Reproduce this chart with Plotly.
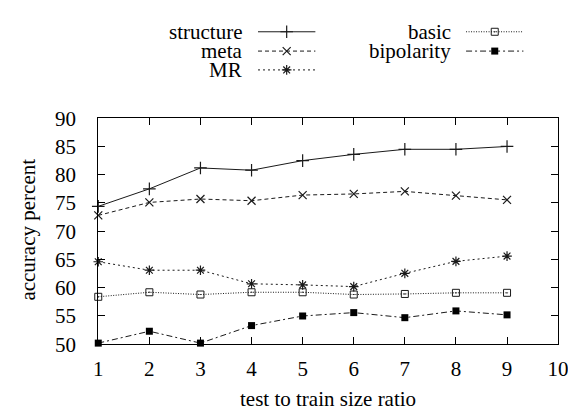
import plotly.graph_objects as go

W, H = 576, 412

x = [1, 2, 3, 4, 5, 6, 7, 8, 9]
structure = [74.4, 77.5, 81.2, 80.8, 82.5, 83.6, 84.5, 84.5, 85.0]
meta = [72.8, 75.1, 75.7, 75.4, 76.4, 76.6, 77.05, 76.3, 75.55]
mr = [64.6, 63.1, 63.1, 60.7, 60.5, 60.2, 62.55, 64.67, 65.6]
basic = [58.4, 59.2, 58.8, 59.2, 59.2, 58.8, 58.9, 59.1, 59.1]
bipolarity = [50.2, 52.3, 50.2, 53.3, 55.0, 55.6, 54.7, 55.9, 55.2]

x_ticks = [1, 2, 3, 4, 5, 6, 7, 8, 9, 10]
y_ticks = [50, 55, 60, 65, 70, 75, 80, 85, 90]

FONT = "Liberation Serif"
FS = 21
LC = "#1a1a1a"

series = [
    ("structure", structure, dict(dash="solid"), dict(symbol="cross-thin", size=9, line=dict(width=1.2, color=LC))),
    ("meta", meta, dict(dash="4px,3px"), dict(symbol="x-thin", size=8, line=dict(width=1.2, color=LC))),
    ("MR", mr, dict(dash="2px,3px"), dict(symbol="asterisk", size=8, line=dict(width=1.2, color=LC))),
    ("basic", basic, dict(dash="1px,1.5px"), dict(symbol="square-open-dot", size=7, color=LC, line=dict(width=1, color=LC))),
    ("bipolarity", bipolarity, dict(dash="6px,3px,2px,3px"), dict(symbol="square", size=7, color="black", line=dict(width=0))),
]

fig = go.Figure()
for name, ys, ls, ms in series:
    fig.add_trace(go.Scatter(x=x, y=ys, mode="lines+markers", name=name,
                             line=dict(color=LC, width=1, **ls), marker=ms,
                             showlegend=False, xaxis="x", yaxis="y", cliponaxis=False))

# legend samples on a pixel-space axis occupying the top strip only
LEG_H = 70
leg_pos = {
    "structure": (238, 12.5, 252, 311),
    "meta": (238, 33, 252, 311),
    "MR": (238, 53, 252, 311),
    "basic": (453, 12.5, 466, 525),
    "bipolarity": (453, 33, 466, 525),
}
annotations = []
for name, ys, ls, ms in series:
    tx, ty, x0, x1 = leg_pos[name]
    fig.add_trace(go.Scatter(x=[x0, x1], y=[ty, ty], mode="lines", line=dict(color=LC, width=1, **ls),
                             showlegend=False, xaxis="x2", yaxis="y2", hoverinfo="skip"))
    fig.add_trace(go.Scatter(x=[(x0 + x1) / 2], y=[ty], mode="markers", marker=ms,
                             showlegend=False, xaxis="x2", yaxis="y2", hoverinfo="skip"))
    annotations.append(dict(x=tx / W, y=1 - ty / H, xref="paper", yref="paper", text=name,
                            showarrow=False, xanchor="right", yanchor="middle",
                            font=dict(family=FONT, size=FS, color="black")))

annotations.append(dict(x=324 / W, y=1 - 402 / H, xref="paper", yref="paper", text="test to train size ratio",
                        showarrow=False, xanchor="center", yanchor="middle",
                        font=dict(family=FONT, size=FS, color="black")))
annotations.append(dict(x=15 / W, y=1 - 223 / H, xref="paper", yref="paper", text="accuracy percent",
                        showarrow=False, xanchor="center", yanchor="middle", textangle=-90,
                        font=dict(family=FONT, size=FS, color="black")))

axis_common = dict(showgrid=False, zeroline=False, showline=True, linecolor="black", linewidth=1,
                   mirror="ticks", ticks="inside", ticklen=7, tickcolor="black", tickwidth=1,
                   tickfont=dict(family=FONT, size=FS, color="black"))

fig.update_layout(
    width=W, height=H,
    margin=dict(l=0, r=0, t=0, b=0),
    paper_bgcolor="white", plot_bgcolor="rgba(0,0,0,0)",
    xaxis=dict(domain=[87.7 / W, 560.7 / W], range=[1, 10], tickvals=x_ticks,
               ticklabelstandoff=6, **axis_common),
    yaxis=dict(domain=[(H - 344.3) / H, (H - 104.3) / H], range=[50, 90], tickvals=y_ticks,
               ticklabelstandoff=17, **axis_common),
    xaxis2=dict(domain=[0, 1], range=[0, W], visible=False, anchor="y2", fixedrange=True),
    yaxis2=dict(domain=[(H - LEG_H) / H, 1], range=[LEG_H, 0], visible=False, anchor="x2", fixedrange=True),
    annotations=annotations,
    showlegend=False,
)

fig.write_html("out.html")
